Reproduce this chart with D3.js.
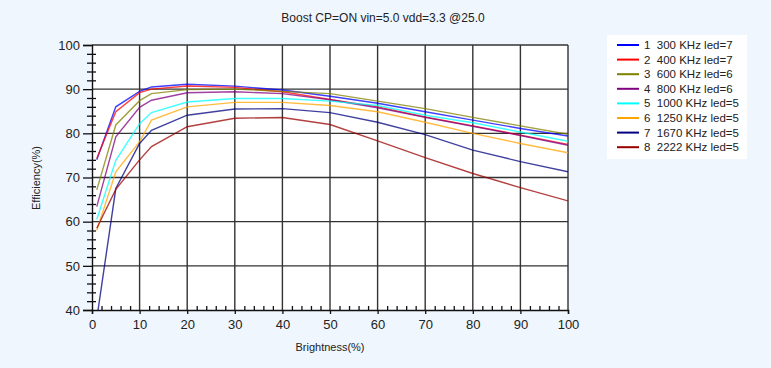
<!DOCTYPE html>
<html>
<head>
<meta charset="utf-8">
<script src="https://cdn.jsdelivr.net/npm/d3@7"></script>
<style>
  body { margin: 0; background: #eff6fd; }
  #chart { width: 771px; height: 368px; }
  text { font-family: 'Liberation Sans', Arial, sans-serif; fill: #222; }
</style>
</head>
<body>
<div id="chart"></div>
<script>
const brightness = [1, 5, 10, 12.5, 20, 30, 40, 50, 60, 70, 80, 90, 100];

const seriesNames = [
  '1  300 KHz led=7',
  '2  400 KHz led=7',
  '3  600 KHz led=6',
  '4  800 KHz led=6',
  '5  1000 KHz led=5',
  '6  1250 KHz led=5',
  '7  1670 KHz led=5',
  '8  2222 KHz led=5',
];

const s300 = [74.0, 86.0, 89.5, 90.5, 91.1, 90.7, 89.8, 88.4, 86.8, 84.9, 83.0, 81.1, 79.4];
const s400 = [74.3, 84.9, 89.2, 90.0, 90.7, 90.4, 89.4, 87.7, 86.0, 83.7, 81.7, 79.6, 77.5];
const s600 = [67.2, 81.9, 87.4, 89.0, 89.9, 90.0, 89.5, 89.0, 87.3, 85.6, 83.6, 81.7, 79.8];
const s800 = [63.4, 79.2, 85.9, 87.5, 89.2, 89.4, 89.0, 87.6, 85.8, 83.6, 81.6, 79.5, 77.3];
const s1000 = [60.5, 73.9, 82.2, 84.7, 87.1, 87.9, 87.9, 87.3, 86.3, 84.1, 82.4, 80.3, 78.2];
const s1250 = [58.0, 71.3, 78.1, 83.0, 86.0, 87.0, 87.0, 86.3, 84.9, 82.5, 80.0, 77.7, 75.6];
const s1670 = [38.0, 67.5, 77.7, 80.7, 84.1, 85.5, 85.6, 84.7, 82.5, 79.7, 76.2, 73.6, 71.3];
const s2222 = [58.5, 67.3, 74.0, 77.0, 81.5, 83.4, 83.6, 82.0, 78.3, 74.5, 70.9, 67.7, 64.7];

const seriesValues = [s300, s400, s600, s800, s1000, s1250, s1670, s2222];
const colors = ['#0000ff', '#ff0000', '#808000', '#800080', '#00ffff', '#ffa500', '#000080', '#990000'];

const xTicks = [0, 10, 20, 30, 40, 50, 60, 70, 80, 90, 100];
const yTicks = [40, 50, 60, 70, 80, 90, 100];

const totalW = 771;
const totalH = 368;
const margin = { top: 45, right: 203, bottom: 58, left: 92 };
const width = totalW - margin.left - margin.right;
const height = totalH - margin.top - margin.bottom;

const root = d3
  .select('#chart')
  .append('svg')
  .attr('width', totalW)
  .attr('height', totalH);

root.append('rect').attr('width', totalW).attr('height', totalH).attr('fill', '#eff6fd');

root
  .append('text')
  .attr('x', 383)
  .attr('y', 22)
  .attr('text-anchor', 'middle')
  .style('font-size', '12px')
  .text('Boost CP=ON vin=5.0 vdd=3.3 @25.0');

const svg = root.append('g').attr('transform', `translate(${margin.left},${margin.top})`);

const x = d3.scaleLinear().domain([0, 100]).range([0, width]);
const y = d3.scaleLinear().domain([40, 100]).range([height, 0]);

svg.append('rect').attr('width', width).attr('height', height).attr('fill', '#fff');

// grid
svg
  .append('g')
  .selectAll('line')
  .data(xTicks.slice(1))
  .enter()
  .append('line')
  .attr('x1', (d) => x(d))
  .attr('x2', (d) => x(d))
  .attr('y1', 0)
  .attr('y2', height)
  .attr('stroke', '#333')
  .attr('stroke-width', 1.4);

svg
  .append('g')
  .selectAll('line')
  .data(yTicks.slice(1))
  .enter()
  .append('line')
  .attr('x1', 0)
  .attr('x2', width)
  .attr('y1', (d) => y(d))
  .attr('y2', (d) => y(d))
  .attr('stroke', '#333')
  .attr('stroke-width', 1.4);

// axes
const xAxis = svg
  .append('g')
  .attr('transform', `translate(0,${height})`)
  .call(d3.axisBottom(x).tickValues(xTicks).tickSize(4).tickPadding(6));

svg
  .append('g')
  .attr('transform', `translate(0,${height})`)
  .call(d3.axisTop(x).tickValues(d3.range(2, 100, 2).filter((d) => d % 10)).tickSize(4).tickFormat(''))
  .call((g) => g.select('.domain').remove());

const yAxis = svg
  .append('g')
  .call(d3.axisLeft(y).tickValues(yTicks).tickSize(9).tickPadding(3));

svg
  .append('g')
  .attr('transform', 'translate(4,0)')
  .call(d3.axisLeft(y).tickValues(d3.range(42, 100, 2).filter((d) => d % 10)).tickSize(9).tickFormat(''))
  .call((g) => g.select('.domain').remove());

svg.selectAll('.tick line').attr('stroke', '#111').attr('stroke-width', 1.3);
svg.selectAll('.domain').attr('stroke', '#111').attr('stroke-width', 1.4);
xAxis.selectAll('text').style('font-size', '13px').attr('fill', '#222');
yAxis.selectAll('text').style('font-size', '13px').attr('fill', '#222');

svg.append('clipPath').attr('id', 'plot-clip').append('rect').attr('width', width).attr('height', height);

const line = d3
  .line()
  .x((d) => x(d[0]))
  .y((d) => y(d[1]));

svg
  .append('g')
  .attr('clip-path', 'url(#plot-clip)')
  .selectAll('path')
  .data(seriesValues)
  .enter()
  .append('path')
  .attr('d', (vals) => line(brightness.map((b, i) => [b, vals[i]])))
  .attr('fill', 'none')
  .attr('stroke', (d, i) => colors[i])
  .attr('stroke-width', 1.4)
  .attr('stroke-opacity', 0.75);

// axis titles
root
  .append('text')
  .attr('x', margin.left + x(50))
  .attr('y', 351)
  .attr('text-anchor', 'middle')
  .style('font-size', '11px')
  .text('Brightness(%)');

root
  .append('text')
  .attr('transform', 'translate(40,178) rotate(-90)')
  .attr('text-anchor', 'middle')
  .style('font-size', '11px')
  .text('Efficiency(%)');

// legend
const legend = root.append('g').attr('transform', 'translate(607,35)');
legend.append('rect').attr('width', 140).attr('height', 124).attr('fill', '#fff');

const item = legend
  .selectAll('.item')
  .data(seriesNames)
  .enter()
  .append('g')
  .attr('class', 'item')
  .attr('transform', (d, i) => `translate(0,${10 + i * 14.6})`);

item
  .append('line')
  .attr('x1', 10)
  .attr('x2', 32)
  .attr('stroke', (d, i) => colors[i])
  .attr('stroke-width', 2);

item
  .append('text')
  .attr('x', 37)
  .attr('dy', '0.35em')
  .style('font-size', '11.5px')
  .style('white-space', 'pre')
  .attr('xml:space', 'preserve')
  .text((d) => d);
</script>
</body>
</html>
